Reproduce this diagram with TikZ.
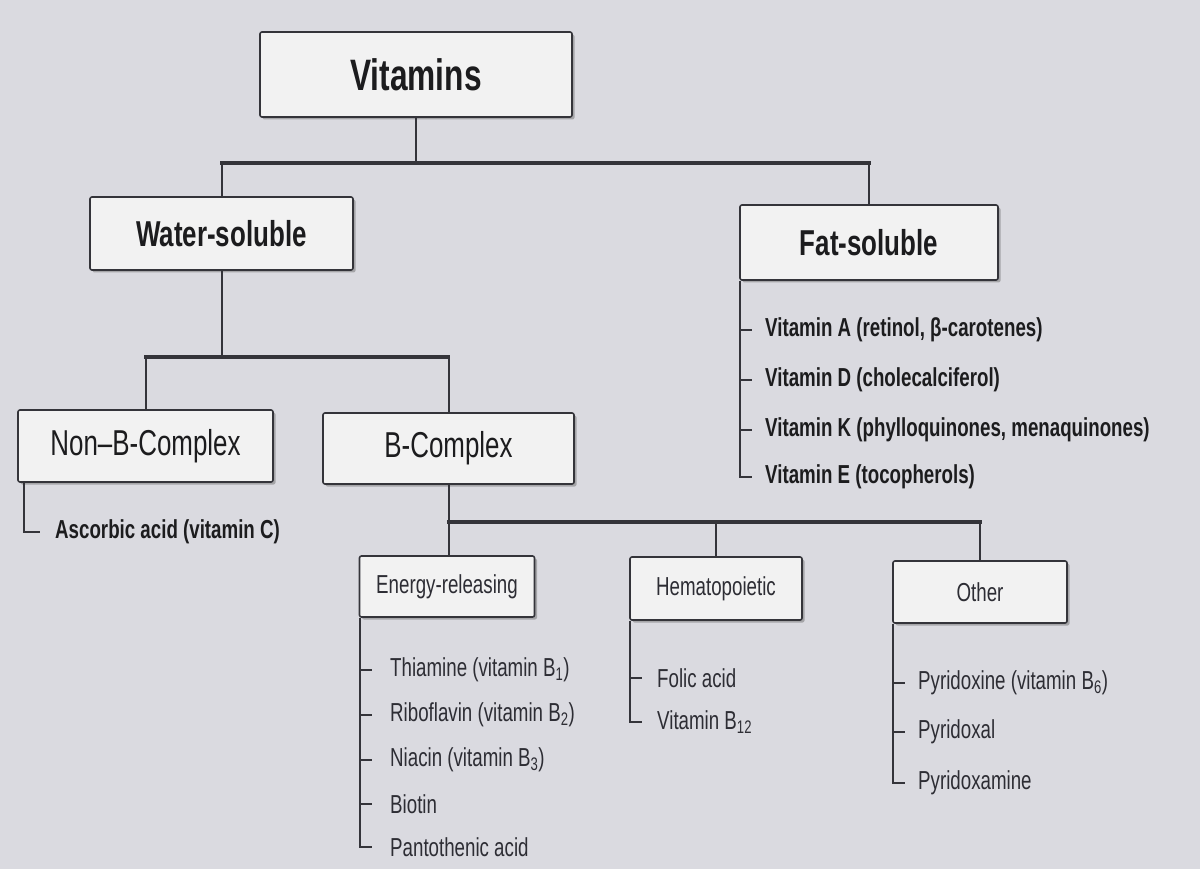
\documentclass[tikz,border=0pt]{standalone}
\usepackage{fontspec}
\setmainfont{Liberation Sans}
\newfontfamily\cnd[FakeStretch=0.72]{Liberation Sans}
\usetikzlibrary{shadows}
\definecolor{bg}{RGB}{218,218,224}
\definecolor{boxfill}{RGB}{242,242,242}
\definecolor{ink}{RGB}{28,28,30}
\definecolor{inkl}{RGB}{45,45,52}
\definecolor{linec}{RGB}{52,52,58}
\begin{document}
\begin{tikzpicture}[x=1pt,y=-1pt,
  box/.style={draw=linec, line width=1.6pt, fill=boxfill, rounded corners=2pt, inner sep=0pt,
    drop shadow={shadow xshift=2.5pt, shadow yshift=-2.5pt, opacity=0.45, fill=black!60}},
  bigbox/.style={box, font=\cnd\bfseries\fontsize{36}{40}\selectfont, text=ink},
  midbox/.style={box, font=\cnd\fontsize{36}{40}\selectfont, text=ink},
  smallbox/.style={box, font=\cnd\fontsize{26}{30}\selectfont, text=inkl},
  bar/.style={draw=linec, line width=3.5pt, line cap=rect},
  stem/.style={draw=linec, line width=2pt},
  item/.style={anchor=west, inner sep=0pt, font=\cnd\fontsize{26}{30}\selectfont, text=inkl},
  bitem/.style={anchor=west, inner sep=0pt, font=\cnd\bfseries\fontsize{26}{30}\selectfont, text=ink},
]
\path[fill=bg] (0,0) rectangle (1200,869);

% boxes
\node[box, minimum width=312, minimum height=85, font=\cnd\bfseries\fontsize{44}{48}\selectfont, text=ink] (vit) at (416,74.5) {Vitamins};
\node[bigbox, minimum width=263, minimum height=73] (ws) at (221.5,233.5) {Water-soluble};
\node[bigbox, minimum width=258, minimum height=75] (fs) at (869,242.5) {Fat-soluble};
\node[midbox, minimum width=255, minimum height=72] (nb) at (145.5,446) {Non–B-Complex};
\node[midbox, minimum width=251, minimum height=71] (bc) at (448.5,448.5) {B-Complex};
\node[smallbox, minimum width=175, minimum height=61] (er) at (447,586.5) {Energy-releasing};
\node[smallbox, minimum width=172, minimum height=63] (he) at (716,588.5) {Hematopoietic};
\node[smallbox, minimum width=174, minimum height=62] (ot) at (980,592) {Other};

% tree connectors
\coordinate (j1) at (416,163);
\draw[stem] (vit.south) -- (j1);
\draw[bar] (ws.north |- j1) -- (fs.north |- j1);
\draw[stem] (ws.north |- j1) -- (ws.north);
\draw[stem] (fs.north |- j1) -- (fs.north);

\coordinate (j2) at (221.5,357);
\draw[stem] (ws.south) -- (j2);
\draw[bar] (nb.north |- j2) -- (bc.north |- j2);
\draw[stem] (nb.north |- j2) -- (nb.north);
\draw[stem] (bc.north |- j2) -- (bc.north);

\coordinate (j3) at (448.5,522);
\draw[stem] (bc.south) -- (j3);
\draw[bar] (j3) -- (ot.north |- j3);
\draw[stem] (j3) -- (er.north -| j3);
\draw[stem] (he.north |- j3) -- (he.north);
\draw[stem] (ot.north |- j3) -- (ot.north);

% fat-soluble list
\node[bitem] (fa) at (765,330) {Vitamin A (retinol, β-carotenes)};
\node[bitem] (fd) at (765,380) {Vitamin D (cholecalciferol)};
\node[bitem] (fk) at (765,430) {Vitamin K (phylloquinones, menaquinones)};
\node[bitem] (fe) at (765,477) {Vitamin E (tocopherols)};
\draw[stem] ([xshift=1pt]fs.south west) |- ([xshift=-13pt]fe.west);
\foreach \n in {fa,fd,fk}
  \draw[stem] ([xshift=1pt]fs.south west |- \n.west) -- ([xshift=-13pt]\n.west);

% non-B list
\node[bitem] (asc) at (55,532) {Ascorbic acid (vitamin C)};
\draw[stem] ([xshift=7pt]nb.south west) |- ([xshift=-15pt]asc.west);

% energy-releasing list
\node[item] (b1) at (390,670) {Thiamine (vitamin B\textsubscript{1})};
\node[item] (b2) at (390,715) {Riboflavin (vitamin B\textsubscript{2})};
\node[item] (b3) at (390,760) {Niacin (vitamin B\textsubscript{3})};
\node[item] (bi) at (390,804) {Biotin};
\node[item] (pa) at (390,847) {Pantothenic acid};
\draw[stem] ([xshift=1.5pt]er.south west) |- ([xshift=-18pt]pa.west);
\foreach \n in {b1,b2,b3,bi}
  \draw[stem] ([xshift=1.5pt]er.south west |- \n.west) -- ([xshift=-18pt]\n.west);

% hematopoietic list
\node[item] (fo) at (657,678) {Folic acid};
\node[item] (b12) at (657,722) {Vitamin B\textsubscript{12}};
\draw[stem] ([xshift=1pt]he.south west) |- ([xshift=-15pt]b12.west);
\draw[stem] ([xshift=1pt]he.south west |- fo.west) -- ([xshift=-15pt]fo.west);

% other list
\node[item] (p6) at (918,683) {Pyridoxine (vitamin B\textsubscript{6})};
\node[item] (pl) at (918,732) {Pyridoxal};
\node[item] (pm) at (918,783) {Pyridoxamine};
\draw[stem] ([xshift=1pt]ot.south west) |- ([xshift=-13pt]pm.west);
\foreach \n in {p6,pl}
  \draw[stem] ([xshift=1pt]ot.south west |- \n.west) -- ([xshift=-13pt]\n.west);
\end{tikzpicture}
\end{document}
